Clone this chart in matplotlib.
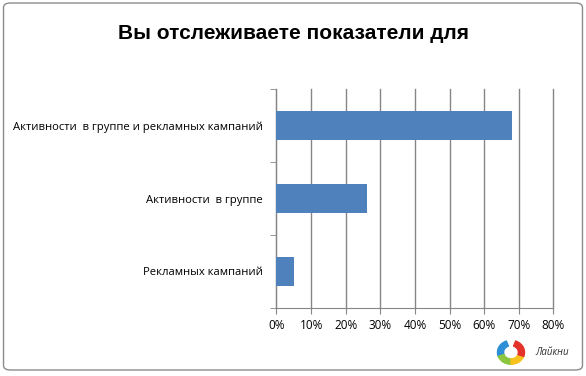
import matplotlib
matplotlib.use('Agg')
import matplotlib.pyplot as plt
from matplotlib.patches import FancyBboxPatch, Wedge
from matplotlib.ticker import FuncFormatter
import numpy as np

plt.rcParams['font.family'] = ['Open Sans', 'DejaVu Sans']

# ── данные ──────────────────────────────────────
categories = ['Рекламных кампаний',
              'Активности  в группе',
              'Активности  в группе и рекламных кампаний']
values = [5, 26, 68]
x_ticks = [0, 10, 20, 30, 40, 50, 60, 70, 80]

BAR = '#4f81bd'
GRID = '#868686'

fig = plt.figure(figsize=(5.86, 3.76), dpi=100)
fig.patch.set_facecolor('white')

# рамка вокруг диаграммы
fig.patches.append(FancyBboxPatch((0.006, 0.016), 0.988, 0.976,
                                  boxstyle='round,pad=0,rounding_size=0.012',
                                  transform=fig.transFigure, fill=False,
                                  edgecolor='#8c8c8c', linewidth=1.0))

ax = fig.add_axes([0.4718, 0.181, 0.4727, 0.582])
y = np.arange(len(categories))
ax.barh(y, values, height=0.4, color=BAR, zorder=3)

ax.set_xlim(0, 80)
ax.set_ylim(-0.5, len(categories) - 0.5)
ax.set_xticks(x_ticks)
ax.xaxis.set_major_formatter(FuncFormatter(lambda v, p: f'{v:.0f}%'))
ax.set_yticks(y)
ax.set_yticklabels(categories)
ax.set_yticks(np.arange(-0.5, len(categories)), minor=True)

ax.grid(axis='x', color=GRID, linewidth=1.0, zorder=0)
for gl in ax.get_xgridlines():
    gl.set_clip_on(False)
for s in ['top', 'right']:
    ax.spines[s].set_visible(False)
for s in ['left', 'bottom']:
    ax.spines[s].set_color(GRID)
ax.tick_params(axis='x', colors=GRID, length=4, labelcolor='black',
               labelsize=8.5, pad=4)
ax.tick_params(axis='y', which='major', length=0, labelsize=8.1, pad=10,
               labelcolor='black')
ax.tick_params(axis='y', which='minor', length=4, color=GRID)

fig.text(0.5, 0.912, 'Вы отслеживаете показатели для', ha='center',
         va='center', fontsize=15, fontweight='bold',
         family=['Liberation Sans', 'DejaVu Sans'])

# логотип «Лайкни»
lx, ly = 0.872, 0.063
la = fig.add_axes([lx - 0.03, ly - 0.035, 0.06, 0.07])
la.set_xlim(-1.3, 1.3)
la.set_ylim(-1.1, 1.1)
la.axis('off')
for th1, th2, c in [(110, 200, '#2e8fd6'), (200, 270, '#8cc63f'),
                    (270, 340, '#f7c21b'), (340, 70, '#e4322b')]:
    la.add_patch(Wedge((0, 0), 1.0, th1, th2, width=0.45, color=c))
fig.text(0.913, 0.063, 'Лайкни', ha='left', va='center', fontsize=7,
         style='italic', color='#333333')

fig.savefig('out.png', dpi=100, facecolor='white')
